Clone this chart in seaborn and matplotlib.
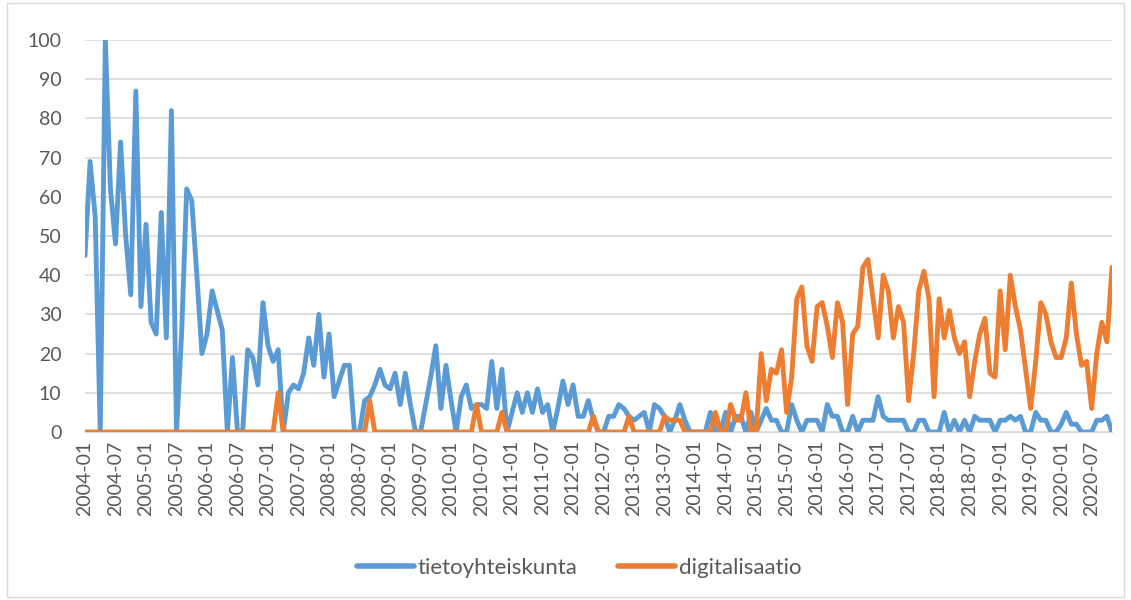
import numpy as np
import pandas as pd
import matplotlib
matplotlib.use("Agg")
import matplotlib.pyplot as plt
import seaborn as sns
from matplotlib.patches import Rectangle

# Monthly data 2004-01 .. 2020-11
months = pd.period_range("2004-01", "2020-11", freq="M").strftime("%Y-%m").tolist()

tietoyhteiskunta = [
    45, 69, 55, 0, 100, 62, 48, 74, 50, 35, 87, 32, 53, 28, 25, 56, 24, 82, 0, 25,
    62, 59, 40, 20, 25, 36, 31, 26, 0, 19, 0, 0, 21, 19, 12, 33, 22, 18, 21, 0,
    10, 12, 11, 15, 24, 17, 30, 14, 25, 9, 13, 17, 17, 0, 0, 8, 9, 12, 16, 12,
    11, 15, 7, 15, 7, 0, 0, 7, 14, 22, 6, 17, 8, 0, 9, 12, 6, 7, 7, 6,
    18, 6, 16, 0, 5, 10, 5, 10, 5, 11, 5, 7, 0, 6, 13, 7, 12, 4, 4, 8,
    3, 0, 0, 4, 4, 7, 6, 4, 3, 4, 5, 0, 7, 6, 4, 0, 3, 7, 3, 0,
    0, 0, 0, 5, 0, 0, 5, 0, 4, 4, 0, 5, 0, 3, 6, 3, 3, 0, 0, 7,
    3, 0, 3, 3, 3, 0, 7, 4, 4, 0, 0, 4, 0, 3, 3, 3, 9, 4, 3, 3,
    3, 3, 0, 0, 3, 3, 0, 0, 0, 5, 0, 3, 0, 3, 0, 4, 3, 3, 3, 0,
    3, 3, 4, 3, 4, 0, 0, 5, 3, 3, 0, 0, 2, 5, 2, 2, 0, 0, 0, 3,
    3, 4, 0,
]

digitalisaatio = [
    0, 0, 0, 0, 0, 0, 0, 0, 0, 0, 0, 0, 0, 0, 0, 0, 0, 0, 0, 0,
    0, 0, 0, 0, 0, 0, 0, 0, 0, 0, 0, 0, 0, 0, 0, 0, 0, 0, 10, 0,
    0, 0, 0, 0, 0, 0, 0, 0, 0, 0, 0, 0, 0, 0, 0, 0, 8, 0, 0, 0,
    0, 0, 0, 0, 0, 0, 0, 0, 0, 0, 0, 0, 0, 0, 0, 0, 0, 7, 0, 0,
    0, 0, 5, 0, 0, 0, 0, 0, 0, 0, 0, 0, 0, 0, 0, 0, 0, 0, 0, 0,
    4, 0, 0, 0, 0, 0, 0, 4, 0, 0, 0, 0, 0, 0, 4, 3, 3, 3, 0, 0,
    0, 0, 0, 0, 5, 0, 0, 7, 3, 3, 10, 0, 0, 20, 8, 16, 15, 21, 5, 14,
    34, 37, 22, 18, 32, 33, 27, 19, 33, 28, 7, 25, 27, 42, 44, 34, 24, 40, 36, 24,
    32, 28, 8, 20, 36, 41, 34, 9, 34, 24, 31, 24, 20, 23, 9, 18, 25, 29, 15, 14,
    36, 21, 40, 32, 26, 16, 6, 18, 33, 30, 23, 19, 19, 24, 38, 25, 17, 18, 6, 20,
    28, 23, 42,
]

series_names = ["tietoyhteiskunta", "digitalisaatio"]
colors = ["#5B9BD5", "#ED7D31"]

n = len(months)
df = pd.DataFrame({
    "idx": list(range(n)) * 2,
    "value": tietoyhteiskunta + digitalisaatio,
    "series": [series_names[0]] * n + [series_names[1]] * n,
})

sns.set_style("white")
plt.rcParams["font.family"] = ["Lato", "DejaVu Sans"]

fig = plt.figure(figsize=(11.31, 6.0), dpi=100)
ax = fig.add_axes([85 / 1131, 1 - 432 / 600, (1112 - 85) / 1131, (432 - 40) / 600])

sns.lineplot(data=df, x="idx", y="value", hue="series", hue_order=series_names,
             palette=colors, linewidth=3.5, ax=ax, legend=False,
             solid_capstyle="round", solid_joinstyle="round", sort=False)

ax.set_xlim(0, n - 1)
ax.set_ylim(0, 100)
ax.set_yticks(range(0, 101, 10))
ax.yaxis.grid(True, color="#D9D9D9", linewidth=1.2)
ax.set_axisbelow(True)
tick_pos = list(range(0, n, 6))
ax.set_xticks(tick_pos)
ax.set_xticklabels([months[i] for i in tick_pos], rotation=90, va="top", ha="center")
ax.tick_params(axis="y", length=0, pad=17, labelsize=14, labelcolor="#595959")
ax.tick_params(axis="x", length=0, pad=6, labelsize=14, labelcolor="#595959")
ax.set_xlabel("")
ax.set_ylabel("")
for side in ["top", "right", "left"]:
    ax.spines[side].set_visible(False)
ax.spines["bottom"].set_color("#D9D9D9")

handles = [plt.Line2D([], [], color=c, linewidth=4.0, solid_capstyle="round") for c in colors]
fig.legend(handles, series_names, loc="center", bbox_to_anchor=(579 / 1131, 1 - 568 / 600),
           ncol=2, frameon=False, fontsize=16, handlelength=2.6, handletextpad=0.15,
           columnspacing=1.8, labelcolor="#595959")

fig.patches.append(Rectangle((7 / 1131, 3 / 600), 1117 / 1131, 594 / 600,
                             transform=fig.transFigure, fill=False,
                             edgecolor="#D9D9D9", linewidth=1.0))

fig.savefig("out.png", dpi=100)
